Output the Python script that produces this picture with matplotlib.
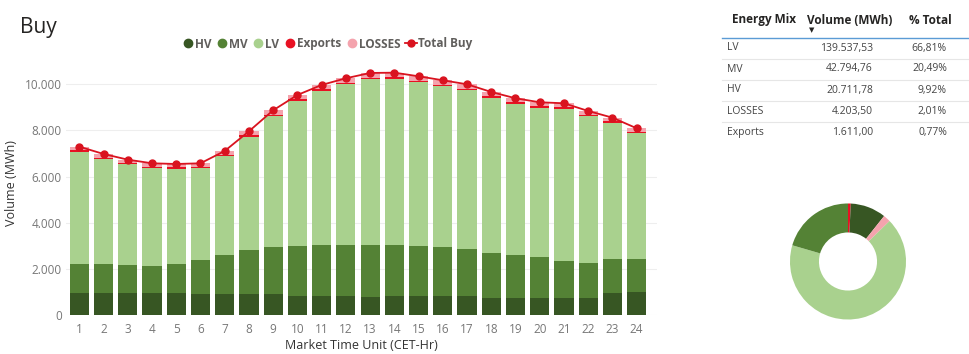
import matplotlib
matplotlib.use("Agg")
import matplotlib.pyplot as plt
from matplotlib.lines import Line2D
import numpy as np

plt.rcParams['font.family'] = ['Open Sans', 'DejaVu Sans']

# hourly data (MWh)
hours = list(range(1, 25))
hv = [955, 955, 950, 950, 950, 900, 900, 890, 890, 820, 810, 810,
      790, 810, 820, 810, 820, 740, 740, 740, 740, 740, 950, 990]
mv = [1248, 1248, 1209, 1180, 1267, 1491, 1709, 1936, 2066, 2180, 2204, 2219,
      2253, 2233, 2180, 2146, 2050, 1941, 1854, 1782, 1622, 1521, 1470, 1445]
lv = [4872, 4561, 4364, 4237, 4120, 3974, 4275, 4892, 5662, 6276, 6691, 6966,
      7177, 7190, 7082, 6957, 6875, 6735, 6554, 6458, 6575, 6347, 5903, 5438]
exports = [60, 60, 60, 60, 60, 60, 65, 70, 70, 70, 70, 70,
           70, 70, 70, 70, 70, 70, 70, 65, 65, 65, 65, 60]
losses = [160, 155, 150, 148, 148, 150, 160, 175, 185, 190, 195, 195,
          200, 200, 195, 190, 185, 180, 175, 175, 175, 170, 165, 160]
total_buy = [7295, 6979, 6733, 6575, 6545, 6575, 7109, 7963, 8873, 9536, 9970, 10260,
             10490, 10503, 10347, 10173, 10000, 9666, 9393, 9220, 9177, 8843, 8553, 8093]

# table / donut data
mix_labels = ['LV', 'MV', 'HV', 'LOSSES', 'Exports']
mix_volumes = [139537.53, 42794.76, 20711.78, 4203.50, 1611.00]
mix_pct = [66.81, 20.49, 9.92, 2.01, 0.77]
donut_order = ['Exports', 'HV', 'LOSSES', 'LV', 'MV']

colors = {'HV': '#375623', 'MV': '#548235', 'LV': '#A9D18E',
          'Exports': '#E81123', 'LOSSES': '#F4A3AD'}
line_color = '#D9131F'
grey = '#605E5C'


def eu(v, dec=2):
    # 1234.5 -> 1.234,50
    s = f"{v:,.{dec}f}"
    return s.replace(',', '#').replace('.', ',').replace('#', '.')


W, H = 970, 354
fig = plt.figure(figsize=(W / 100, H / 100), dpi=100)

# main chart
ax = fig.add_axes([66 / W, 1 - 315 / H, 591 / W, 253.8 / H])
x = np.array(hours)
bw = 0.79
bottom = np.zeros(24)
for name, vals in [('HV', hv), ('MV', mv), ('LV', lv), ('Exports', exports), ('LOSSES', losses)]:
    ax.bar(x, vals, bw, bottom=bottom, color=colors[name], zorder=2)
    bottom += np.array(vals)
ax.plot(x, total_buy, color=line_color, lw=1.3, marker='o', ms=5, zorder=3)

ax.set_xlim(0.45, 24.84)
ax.set_ylim(0, 11000)
ax.set_xticks(hours)
ax.set_yticks([0, 2000, 4000, 6000, 8000, 10000])
ax.set_yticklabels([eu(v, 0) for v in [0, 2000, 4000, 6000, 8000, 10000]])
ax.tick_params(axis='y', length=0, labelsize=8.5, labelcolor='#777777', pad=3)
ax.tick_params(axis='x', length=0, labelsize=8.5, labelcolor='#777777', pad=6)
ax.grid(axis='y', color='#EEEEEE', lw=0.8, zorder=0)
for s in ax.spines.values():
    s.set_visible(False)
ax.set_xlabel('Market Time Unit (CET-Hr)', fontsize=9, color='#333333', labelpad=2)
ax.set_ylabel('Volume (MWh)', fontsize=9, color='#333333')
ax.yaxis.set_label_coords((18 - 66) / 591, 0.52)

fig.text(20 / W, 1 - 28 / H, 'Buy', fontsize=15, color='#252423', va='center')

handles = [Line2D([], [], ls='', marker='o', ms=6, color=colors[n]) for n in ['HV', 'MV', 'LV', 'Exports', 'LOSSES']]
handles.append(Line2D([], [], color=line_color, lw=1.3, marker='o', ms=5))
leg = fig.legend(handles, ['HV', 'MV', 'LV', 'Exports', 'LOSSES', 'Total Buy'],
                 loc='center', bbox_to_anchor=(327 / W, 1 - 44 / H), ncol=6, frameon=False,
                 handlelength=1.0, handletextpad=0.1, columnspacing=0.4,
                 prop={'weight': 'bold', 'size': 8.5})
for t in leg.get_texts():
    t.set_color(grey)

# table
hy = 1 - 20 / H
fig.text(764 / W, hy, 'Energy Mix', fontsize=8.5, weight='bold', ha='center', va='center', color='#252423')
fig.text(850 / W, hy, 'Volume (MWh)', fontsize=8.5, weight='bold', ha='center', va='center', color='#252423')
fig.text(930 / W, hy, '% Total', fontsize=8.5, weight='bold', ha='center', va='center', color='#252423')
fig.text(812 / W, 1 - 31 / H, '\u25BC', fontsize=5, ha='center', va='center', color='#252423')
fig.add_artist(Line2D([722 / W, 968 / W], [1 - 38 / H, 1 - 38 / H], color='#5B9BD5', lw=1))
row_y = [48, 69, 90, 111, 132]
for i, (lab, vol, pct) in enumerate(zip(mix_labels, mix_volumes, mix_pct)):
    yy = 1 - row_y[i] / H
    fig.text(727 / W, yy, lab, fontsize=7.5, color='#444444', va='center')
    fig.text(873 / W, yy, eu(vol), fontsize=7.5, color='#444444', va='center', ha='right')
    fig.text(947 / W, yy, eu(pct) + '%', fontsize=7.5, color='#444444', va='center', ha='right')
    if i < len(mix_labels) - 1:
        ly = 1 - (row_y[i] + 10.5) / H
        fig.add_artist(Line2D([722 / W, 968 / W], [ly, ly], color='#E6E6E6', lw=0.8))

# donut
dax = fig.add_axes([(848 - 60) / W, (H - 261.5 - 60) / H, 120 / W, 120 / H])
dvals = [mix_volumes[mix_labels.index(n)] for n in donut_order]
dax.pie(dvals, colors=[colors[n] for n in donut_order], startangle=90, counterclock=False,
        radius=0.967, wedgeprops={'width': 0.483, 'linewidth': 0})
dax.set_xlim(-1, 1)
dax.set_ylim(-1, 1)
dax.set_aspect('equal')
dax.axis('off')

fig.savefig('out.png', dpi=100)
